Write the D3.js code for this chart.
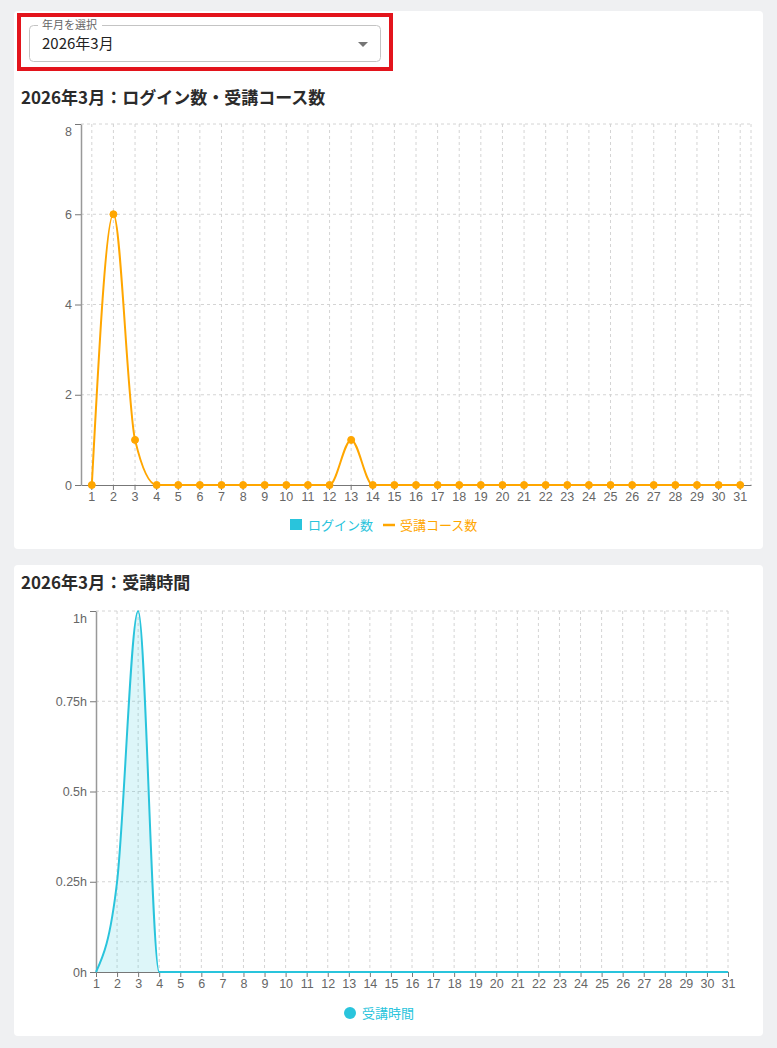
<!DOCTYPE html>
<html>
<head>
<meta charset="utf-8">
<script src="https://cdn.jsdelivr.net/npm/d3@7"></script>
<style>
  body { margin: 0; background: #eff0f2; }
  svg { display: block; font-family: "Noto Sans CJK JP", "Noto Sans", sans-serif; }
</style>
</head>
<body>
<svg id="page" width="777" height="1048"></svg>
<script>
/* data */
const monthLabel = "2026年3月"
const days = d3.range(1, 32)
const loginCounts = [0, 0, 0, 0, 0, 0, 0, 0, 0, 0, 0, 0, 0, 0, 0, 0, 0, 0, 0, 0, 0, 0, 0, 0, 0, 0, 0, 0, 0, 0, 0]
const courseCounts = [0, 6, 1, 0, 0, 0, 0, 0, 0, 0, 0, 0, 1, 0, 0, 0, 0, 0, 0, 0, 0, 0, 0, 0, 0, 0, 0, 0, 0, 0, 0]
const studyHours = [0, 0.25, 1, 0, 0, 0, 0, 0, 0, 0, 0, 0, 0, 0, 0, 0, 0, 0, 0, 0, 0, 0, 0, 0, 0, 0, 0, 0, 0, 0, 0]
const countTicks = [0, 2, 4, 6, 8]
const hourTicks = [0, 0.25, 0.5, 0.75, 1]

const cyan = "#29c4dc"
const orange = "#ffa600"
const axisColor = "#777"
const gridColor = "#d4d4d4"
const tickFont = 12.5

const svg = d3.select("#page")

/* cards */
svg.append("rect").attr("x", 14).attr("y", 11).attr("width", 749).attr("height", 538)
  .attr("rx", 4).attr("fill", "white")
svg.append("rect").attr("x", 14).attr("y", 565).attr("width", 749).attr("height", 471)
  .attr("rx", 4).attr("fill", "white")

/* month select */
svg.append("rect").attr("x", 19).attr("y", 15).attr("width", 372).attr("height", 54)
  .attr("fill", "none").attr("stroke", "#e3141c").attr("stroke-width", 4)
svg.append("rect").attr("x", 29.5).attr("y", 25.5).attr("width", 351).attr("height", 36)
  .attr("rx", 4).attr("fill", "none").attr("stroke", "#c4c4c4")
svg.append("rect").attr("x", 38).attr("y", 20).attr("width", 64).attr("height", 10).attr("fill", "white")
svg.append("text").attr("x", 42).attr("y", 29).attr("font-size", 11).attr("fill", "#666").text("年月を選択")
svg.append("text").attr("x", 42).attr("y", 49).attr("font-size", 15).attr("fill", "#222").text(monthLabel)
svg.append("path").attr("d", "M358,42L368,42L363,47Z").attr("fill", "#757575")

/* shared axis styling; top y label is pushed down inside the plot like the original */
function styleAxis(g, topValue) {
  g.select(".domain").attr("stroke", axisColor)
  g.selectAll(".tick line").attr("stroke", axisColor)
  g.selectAll(".tick text").attr("font-size", tickFont).attr("fill", "#666").attr("font-family", null)
  if (topValue !== undefined) {
    g.select(".domain").attr("stroke", "#999").attr("stroke-width", 1.5)
    g.selectAll(".tick").filter(d => d === topValue).select("text").attr("dy", "0.95em")
  }
}

/* ---------- chart 1: logins & courses ---------- */
svg.append("text").attr("x", 21).attr("y", 104).attr("font-size", 17).attr("font-weight", 700)
  .attr("fill", "#2b2b2b").text(`${monthLabel}：ログイン数・受講コース数`)

const x1 = d3.scaleBand(days, [81, 751])
const cx1 = d => x1(d) + x1.bandwidth() / 2
const y1 = d3.scaleLinear([0, 8], [485, 124])

const g1 = svg.append("g")

/* grid */
g1.append("g").selectAll("line").data(countTicks.filter(t => t > 0)).join("line")
  .attr("x1", 81).attr("x2", 751).attr("y1", d => y1(d)).attr("y2", d => y1(d))
  .attr("stroke", gridColor).attr("stroke-dasharray", "3,3")
g1.append("g").selectAll("line").data(days).join("line")
  .attr("x1", d => cx1(d)).attr("x2", d => cx1(d)).attr("y1", y1(8)).attr("y2", y1(0))
  .attr("stroke", gridColor).attr("stroke-dasharray", "3,3")
g1.append("line").attr("x1", 751).attr("x2", 751).attr("y1", y1(8)).attr("y2", y1(0))
  .attr("stroke", gridColor).attr("stroke-dasharray", "3,3")

/* axes */
g1.append("g").attr("transform", `translate(0,${y1(0)})`)
  .call(d3.axisBottom(x1).tickSize(5).tickPadding(2).tickSizeOuter(0))
  .call(g => styleAxis(g))
g1.append("g").attr("transform", "translate(81,0)")
  .call(d3.axisLeft(y1).tickValues(countTicks).tickSize(6).tickPadding(3).tickSizeOuter(0))
  .call(g => styleAxis(g, 8))

/* login bars (all zero this month) */
g1.append("g").selectAll("rect").data(days).join("rect")
  .attr("x", d => x1(d) + 4).attr("width", x1.bandwidth() - 8)
  .attr("y", (d, i) => y1(loginCounts[i])).attr("height", (d, i) => y1(0) - y1(loginCounts[i]))
  .attr("fill", cyan)

/* course line */
const line1 = d3.line().x(d => cx1(d[0])).y(d => y1(d[1])).curve(d3.curveMonotoneX)
const coursePts = days.map((d, i) => [d, courseCounts[i]])
g1.append("path").attr("d", line1(coursePts))
  .attr("fill", "none").attr("stroke", orange).attr("stroke-width", 2)
g1.append("g").selectAll("circle").data(coursePts).join("circle")
  .attr("cx", d => cx1(d[0])).attr("cy", d => y1(d[1])).attr("r", 3.5)
  .attr("fill", orange).attr("stroke", orange)

/* legend */
const lg1 = svg.append("g").attr("font-size", 13)
lg1.append("rect").attr("x", 290).attr("y", 519).attr("width", 12).attr("height", 11).attr("fill", cyan)
lg1.append("text").attr("x", 308).attr("y", 530).attr("fill", cyan).text("ログイン数")
lg1.append("line").attr("x1", 383).attr("x2", 395).attr("y1", 525).attr("y2", 525)
  .attr("stroke", orange).attr("stroke-width", 2.5)
lg1.append("text").attr("x", 400).attr("y", 530).attr("fill", orange).text("受講コース数")

/* ---------- chart 2: study time ---------- */
svg.append("text").attr("x", 21).attr("y", 589).attr("font-size", 17).attr("font-weight", 700)
  .attr("fill", "#2b2b2b").text(`${monthLabel}：受講時間`)

const x2 = d3.scalePoint(days, [96, 728])
const y2 = d3.scaleLinear([0, 1], [972, 611])

const g2 = svg.append("g")

g2.append("g").selectAll("line").data(hourTicks.filter(t => t > 0)).join("line")
  .attr("x1", 96).attr("x2", 728).attr("y1", d => y2(d)).attr("y2", d => y2(d))
  .attr("stroke", gridColor).attr("stroke-dasharray", "3,3")
g2.append("g").selectAll("line").data(days.slice(1)).join("line")
  .attr("x1", d => x2(d)).attr("x2", d => x2(d)).attr("y1", y2(1)).attr("y2", y2(0))
  .attr("stroke", gridColor).attr("stroke-dasharray", "3,3")

g2.append("g").attr("transform", `translate(0,${y2(0)})`)
  .call(d3.axisBottom(x2).tickSize(5).tickPadding(2).tickSizeOuter(0))
  .call(g => styleAxis(g))
g2.append("g").attr("transform", "translate(96,0)")
  .call(d3.axisLeft(y2).tickValues(hourTicks).tickFormat(d => `${d}h`).tickSize(6).tickPadding(3).tickSizeOuter(0))
  .call(g => styleAxis(g, 1))

const hourPts = days.map((d, i) => [d, studyHours[i]])
g2.append("path")
  .attr("d", d3.area().x(d => x2(d[0])).y0(y2(0)).y1(d => y2(d[1])).curve(d3.curveMonotoneX)(hourPts))
  .attr("fill", cyan).attr("fill-opacity", 0.16)
g2.append("path")
  .attr("d", d3.line().x(d => x2(d[0])).y(d => y2(d[1])).curve(d3.curveMonotoneX)(hourPts))
  .attr("fill", "none").attr("stroke", cyan).attr("stroke-width", 2)

const lg2 = svg.append("g").attr("font-size", 13)
lg2.append("circle").attr("cx", 350).attr("cy", 1013).attr("r", 6).attr("fill", cyan)
lg2.append("text").attr("x", 362).attr("y", 1018).attr("fill", cyan).text("受講時間")
</script>
</body>
</html>
